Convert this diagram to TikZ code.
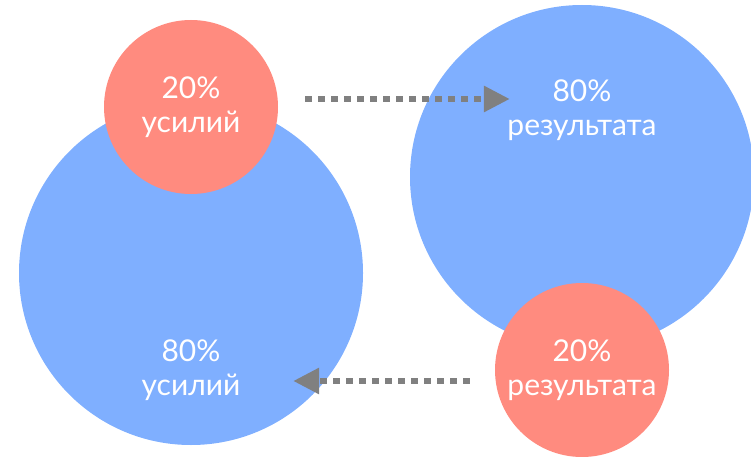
\documentclass[tikz,border=0pt]{standalone}
\usepackage{fontspec}
\setmainfont{Lato}
\usetikzlibrary{calc,arrows.meta,positioning}

\definecolor{bigblue}{RGB}{127,175,255}
\definecolor{smallred}{RGB}{255,139,127}
\definecolor{arrowgray}{RGB}{128,128,128}

\begin{document}
\begin{tikzpicture}[
    x=1pt, y=-1pt,
    big/.style={circle,
        fill=bigblue,
        inner sep=0pt,
        minimum size=344pt},
    small/.style={circle,
        fill=smallred,
        inner sep=0pt,
        minimum size=174pt},
    pct/.style={text=white,
        align=center,
        font=\fontsize{30}{34}\selectfont},
    flow/.style={arrowgray,
        line width=6pt,
        dash pattern=on 6.5pt off 6.5pt,
        -{Triangle[length=26pt,width=25pt]}},
    ]

    \useasboundingbox (0,0) rectangle (751,457);

    \node [big] (effbig) at (191,273) {};
    \node [small, pct] (effsmall) at (191,107) {20\%\\усилий};
    \node [big] (resbig) at (582,177) {};
    \node [small, pct] (ressmall) at (582,370) {20\%\\результата};

    \node [pct] (effbigtext) at ($(effbig)+(0,97)$) {80\%\\усилий};
    \node [pct] (resbigtext) at ($(resbig)+(0,-67)$) {80\%\\результата};

    \draw[flow] ($(effsmall.east)+(27,-8)$) -- ($(resbig.west)+(100,-78)$);
    \draw[flow] ($(ressmall.west)+(-25,11)$) -- ($(effbig.east)+(-70,108)$);
\end{tikzpicture}
\end{document}
